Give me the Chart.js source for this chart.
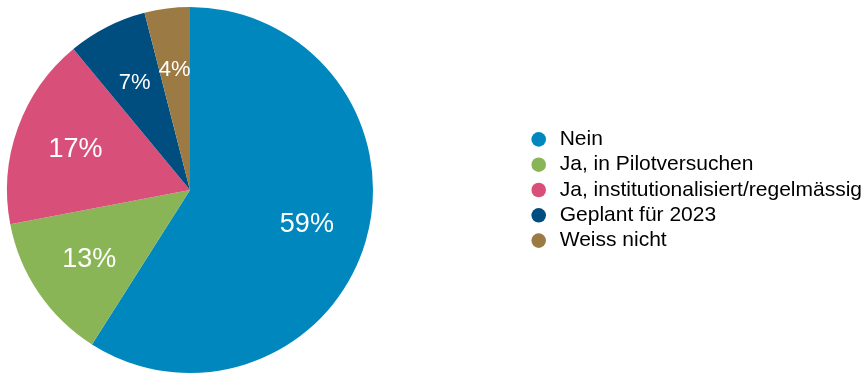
<!DOCTYPE html>
<html>
<head>
<meta charset="utf-8">
<script src="https://cdn.jsdelivr.net/npm/chart.js@4"></script>
<style>
  html, body { margin: 0; padding: 0; background: #fff; }
  #wrap { width: 868px; height: 376px; }
</style>
</head>
<body>
<div id="wrap"><canvas id="pieChart"></canvas></div>
<script>
const categories = [
  "Nein",
  "Ja, in Pilotversuchen",
  "Ja, institutionalisiert/regelmässig",
  "Geplant für 2023",
  "Weiss nicht",
];
const shares = [59, 13, 17, 7, 4];
const sliceColors = ["#0087be", "#8ab556", "#d8507a", "#004e80", "#9c7a43"];
const labelSizes = [27, 27, 27, 22, 22];

const fontFamily = "Helvetica, Arial, 'Liberation Sans', sans-serif";

// keep the pie square on the left, the legend stays on the right edge
const squareArea = {
  id: "squareArea",
  afterLayout(chart) {
    const area = chart.chartArea;
    const size = area.bottom - area.top;
    area.right = area.left + size;
    area.width = size;
  },
};

// percentage text inside each slice
const sliceLabels = {
  id: "sliceLabels",
  afterDatasetsDraw(chart) {
    const ctx = chart.ctx;
    const meta = chart.getDatasetMeta(0);
    ctx.save();
    ctx.fillStyle = "#fff";
    ctx.textAlign = "center";
    ctx.textBaseline = "middle";
    meta.data.forEach((arc, i) => {
      const { x, y, startAngle, endAngle, outerRadius } = arc.getProps(
        ["x", "y", "startAngle", "endAngle", "outerRadius"],
        true
      );
      const mid = (startAngle + endAngle) / 2;
      const r = outerRadius * 0.665;
      ctx.font = labelSizes[i] + "px " + fontFamily;
      ctx.fillText(shares[i] + "%", x + Math.cos(mid) * r, y + Math.sin(mid) * r + 1);
    });
    ctx.restore();
  },
};

new Chart(document.getElementById("pieChart"), {
  type: "pie",
  data: {
    labels: categories,
    datasets: [
      {
        data: shares,
        backgroundColor: sliceColors,
        borderWidth: 0,
      },
    ],
  },
  options: {
    responsive: true,
    maintainAspectRatio: false,
    animation: false,
    layout: { padding: { left: 7, top: 7, bottom: 3, right: -4 } },
    plugins: {
      tooltip: { enabled: false },
      legend: {
        position: "right",
        labels: {
          usePointStyle: true,
          pointStyle: "circle",
          boxHeight: 10.3,
          boxWidth: 21,
          padding: 4.3,
          color: "#000",
          font: { family: fontFamily, size: 21 },
        },
      },
    },
  },
  plugins: [squareArea, sliceLabels],
});
</script>
</body>
</html>
